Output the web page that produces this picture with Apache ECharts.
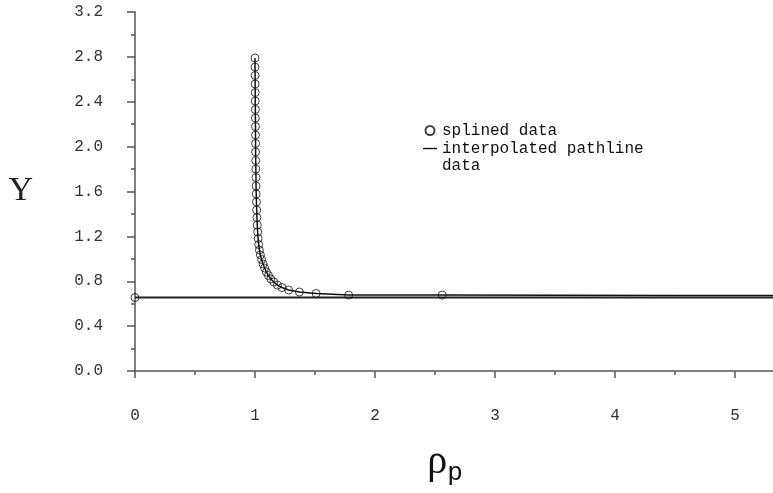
<!DOCTYPE html>
<html>
<head>
<meta charset="utf-8">
<script src="https://cdn.jsdelivr.net/npm/echarts@6/dist/echarts.min.js"></script>
<style>
  html, body { margin: 0; padding: 0; background: #fff; }
  #chart { width: 773px; height: 493px; }
</style>
</head>
<body>
<div id="chart"></div>
<script>
// Spline samples along the pathline: rho_p and Y
const splinedRho = [
  0.000,
  1.000, 1.000, 1.001, 1.001, 1.002, 1.002, 1.003, 1.003, 1.004, 1.004,
  1.005, 1.005, 1.006, 1.007, 1.008, 1.009, 1.010, 1.012, 1.014, 1.016,
  1.019, 1.022, 1.026, 1.031, 1.037, 1.045, 1.055, 1.067, 1.080, 1.095,
  1.112, 1.132, 1.157, 1.187, 1.225, 1.280, 1.370, 1.510, 1.780, 2.560
];
const splinedY = [
  0.655,
  2.790, 2.709, 2.634, 2.558, 2.482, 2.406, 2.331, 2.255, 2.179, 2.103,
  2.028, 1.952, 1.876, 1.800, 1.725, 1.649, 1.578, 1.506, 1.435, 1.368,
  1.301, 1.239, 1.181, 1.127, 1.078, 1.034, 0.994, 0.954, 0.918, 0.882,
  0.851, 0.820, 0.793, 0.766, 0.744, 0.722, 0.704, 0.691, 0.677, 0.677
];

// Interpolated pathline: the far tail of the curve and the flat asymptote
const tailRho = [3.5, 4.5, 6.0];
const tailY = [0.675, 0.673, 0.671];
const baselineRho = [0.0, 6.0];
const baselineY = [0.655, 0.655];

// Axis tick positions
const xMajorTicks = [0, 1, 2, 3, 4, 5];
const xMinorTicks = [0.5, 1.5, 2.5, 3.5, 4.5];
const yMajorTicks = [0.0, 0.4, 0.8, 1.2, 1.6, 2.0, 2.4, 2.8, 3.2];
const yMinorTicks = [0.2, 0.6, 1.0, 1.4, 1.8, 2.2, 2.6, 3.0];

const MONO = '"Liberation Mono", "DejaVu Sans Mono", monospace';
const SERIF = '"Liberation Serif", "DejaVu Serif", serif';
const AXIS_COLOR = '#555';

const splinedPoints = splinedRho.map((r, i) => [r, splinedY[i]]);
const curvePoints = splinedPoints.slice(1).concat(tailRho.map((r, i) => [r, tailY[i]]));
const basePoints = baselineRho.map((r, i) => [r, baselineY[i]]);

const X_MAX = 638 / 120;
const PATH_NAME = 'interpolated pathline data';

const chart = echarts.init(document.getElementById('chart'), null, { renderer: 'canvas' });

chart.setOption({
  animation: false,
  backgroundColor: '#fff',
  grid: { left: 135, top: 12, right: 0, bottom: 122, containLabel: false, outerBoundsMode: 'none' },
  legend: {
    orient: 'vertical',
    left: 418,
    top: 117,
    itemWidth: 14,
    itemHeight: 9,
    itemGap: -16,
    textStyle: { fontFamily: MONO, fontSize: 16, color: '#111', lineHeight: 17 },
    // the second entry wraps; an empty first line keeps its marker beside "interpolated pathline"
    formatter: name => name === PATH_NAME ? '\ninterpolated pathline\ndata' : name,
    data: [
      { name: 'splined data' },
      { name: PATH_NAME, icon: 'path://M0,0H14V1.4H0Z' }
    ]
  },
  xAxis: [
    {
      type: 'value',
      min: 0,
      max: X_MAX,
      name: '{r|ρ}{s|p}',
      nameLocation: 'middle',
      nameGap: 67,
      nameTextStyle: {
        rich: {
          r: { fontFamily: SERIF, fontSize: 40, color: '#111' },
          s: { fontFamily: MONO, fontSize: 26, color: '#111', padding: [22, 18, 0, 0] }
        }
      },
      axisLine: { show: true, onZero: false, lineStyle: { color: AXIS_COLOR, width: 1.5 } },
      axisTick: { show: true, inside: false, length: 7, customValues: xMajorTicks, lineStyle: { color: AXIS_COLOR, width: 1.5 } },
      axisLabel: { show: true, margin: 37, customValues: xMajorTicks, fontFamily: MONO, fontSize: 16, color: '#333', formatter: v => String(v) },
      splitLine: { show: false }
    },
    {
      type: 'value',
      min: 0,
      max: X_MAX,
      position: 'bottom',
      axisLine: { show: false },
      axisTick: { show: true, length: 4, customValues: xMinorTicks, lineStyle: { color: AXIS_COLOR, width: 1.5 } },
      axisLabel: { show: false },
      splitLine: { show: false }
    }
  ],
  yAxis: [
    {
      type: 'value',
      min: 0,
      max: 3.2,
      name: 'Y',
      nameLocation: 'middle',
      nameGap: 102,
      nameRotate: 0,
      nameTextStyle: { fontFamily: SERIF, fontSize: 34, color: '#222' },
      axisLine: { show: true, onZero: false, lineStyle: { color: AXIS_COLOR, width: 1.5 } },
      axisTick: { show: true, length: 8, customValues: yMajorTicks, lineStyle: { color: AXIS_COLOR, width: 1.5 } },
      axisLabel: { show: true, margin: 32, customValues: yMajorTicks, fontFamily: MONO, fontSize: 16, color: '#333', formatter: v => v.toFixed(1) },
      splitLine: { show: false }
    },
    {
      type: 'value',
      min: 0,
      max: 3.2,
      position: 'left',
      offset: 0,
      axisLine: { show: false },
      axisTick: { show: true, length: 4, customValues: yMinorTicks, lineStyle: { color: AXIS_COLOR, width: 1.5 } },
      axisLabel: { show: false },
      splitLine: { show: false }
    }
  ],
  series: [
    {
      name: PATH_NAME,
      type: 'line',
      xAxisIndex: 0,
      yAxisIndex: 0,
      data: curvePoints,
      showSymbol: false,
      symbol: 'none',
      clip: true,
      lineStyle: { color: '#111', width: 1.5 },
      itemStyle: { color: '#111' },
      z: 2
    },
    {
      name: PATH_NAME,
      type: 'line',
      xAxisIndex: 0,
      yAxisIndex: 0,
      data: basePoints,
      showSymbol: false,
      symbol: 'none',
      clip: true,
      lineStyle: { color: '#222', width: 2 },
      itemStyle: { color: '#111' },
      z: 2
    },
    {
      name: 'splined data',
      type: 'scatter',
      xAxisIndex: 0,
      yAxisIndex: 0,
      data: splinedPoints,
      symbol: 'circle',
      symbolSize: 8,
      itemStyle: { color: 'rgba(255,255,255,0)', borderColor: '#111', borderWidth: 1 },
      z: 3
    }
  ]
});
</script>
</body>
</html>
